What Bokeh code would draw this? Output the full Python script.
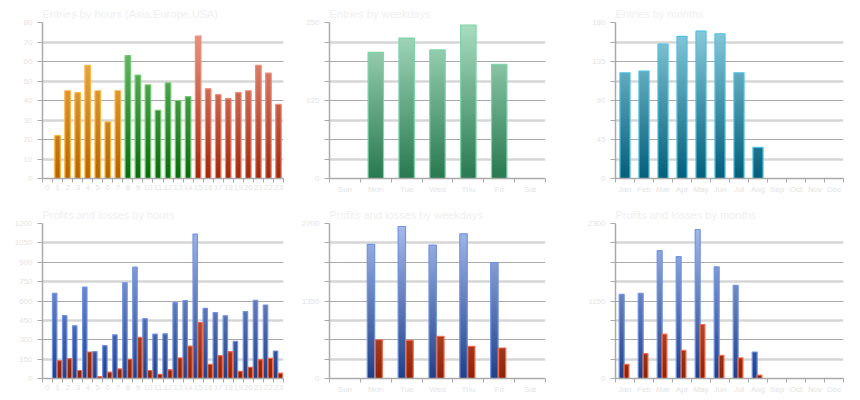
import numpy as np
from bokeh.plotting import figure
from bokeh.layouts import column, row
from bokeh.models import FixedTicker, Range1d
from bokeh.embed import file_html
from bokeh.resources import INLINE

# ---------------- data ----------------
hours = [str(h) for h in range(24)]
weekdays = ["Sun", "Mon", "Tue", "Wed", "Thu", "Fri", "Sat"]
months = ["Jan", "Feb", "Mar", "Apr", "May", "Jun", "Jul", "Aug", "Sep", "Oct", "Nov", "Dec"]

hour_regions = ["Asia"] * 8 + ["Europe"] * 7 + ["USA"] * 9

entries_by_hour = [0, 22, 45, 44, 58, 45, 29, 45, 63, 53, 48, 35, 49, 40, 42,
                   73, 46, 43, 41, 44, 45, 58, 54, 38]
entries_by_weekday = [0, 202, 225, 206, 246, 183, 0]
entries_by_month = [122, 124, 155, 164, 170, 167, 122, 36, 0, 0, 0, 0]

profits_by_hour = [0, 659, 487, 408, 708, 208, 254, 338, 741, 862, 464, 344, 346,
                   587, 603, 1118, 544, 510, 485, 287, 518, 605, 569, 213]
losses_by_hour = [0, 138, 154, 62, 205, 15, 49, 74, 149, 318, 62, 33, 67,
                  159, 251, 433, 110, 177, 208, 56, 87, 146, 156, 41]
profits_by_weekday = [0, 2337, 2648, 2325, 2521, 2019, 0]
losses_by_weekday = [0, 675, 664, 733, 560, 531, 0]
profits_by_month = [1248, 1263, 1897, 1808, 2211, 1656, 1381, 393, 0, 0, 0, 0]
losses_by_month = [211, 369, 658, 418, 801, 344, 305, 49, 0, 0, 0, 0]

# y axis tick labels
hour_entry_ticks = [0, 10, 20, 30, 40, 50, 60, 70, 80]
weekday_entry_ticks = [0, 125, 250]
month_entry_ticks = [0, 45, 90, 135, 180]
hour_pl_ticks = [0, 150, 300, 450, 600, 750, 900, 1050, 1200]
weekday_pl_ticks = [0, 1350, 2700]
month_pl_ticks = [0, 1150, 2300]

# ---------------- styles ----------------
FONT = "Liberation Sans"
TITLE_COLOR = "#efefef"
LABEL_COLOR = "#e4e4e4"
AXIS_COLOR = "#aaaaaa"
GRID_DARK = "#a9a9a9"
GRID_LIGHT = "#d6d6d6"

# (dark bottom, light top, outline)
PAL = {
    "Asia": ("#b46400", "#f7bc5e", "#ffb440"),
    "Europe": ("#0b6a0b", "#7cc67c", "#72cc72"),
    "USA": ("#a0280a", "#ee9c8a", "#f28a78"),
    "week": ("#287850", "#aadec2", "#7ed6a6"),
    "month": ("#035e7a", "#8ecede", "#4cc2e2"),
    "profit": ("#1f3f88", "#a8bcec", "#7094e6"),
    "loss": ("#8c2206", "#f0906e", "#f26a4a"),
}

NB = 60


def h2rgb(h):
    return np.array([int(h[i:i + 2], 16) for i in (1, 3, 5)], dtype=float)


def mix(c0, c1, t):
    a, b = h2rgb(c0), h2rgb(c1)
    c = a + (b - a) * t
    return "#%02x%02x%02x" % tuple(int(round(v)) for v in c)


def add_bars(p, centers, vals, width, ymax, pals):
    L, R, B, T, C = [], [], [], [], []
    oL, oR, oT, oC = [], [], [], []
    step = ymax / NB
    for x, v, pal in zip(centers, vals, pals):
        if v <= 0:
            continue
        dark, light, outline = pal
        k = 0
        while k * step < v:
            lo = k * step
            hi = min((k + 1.6) * step, v)
            L.append(x - width / 2)
            R.append(x + width / 2)
            B.append(lo)
            T.append(hi)
            C.append(mix(dark, light, (lo + step / 2) / ymax))
            k += 1
        oL.append(x - width / 2)
        oR.append(x + width / 2)
        oT.append(v)
        oC.append(outline)
    p.quad(left=L, right=R, bottom=B, top=T, fill_color=C, line_color=None)
    p.quad(left=oL, right=oR, bottom=[0] * len(oL), top=oT, fill_color=None,
           line_color=oC, line_width=1.2)


def make_fig(title, w, h, labels, ymax, ylabels, borders):
    n = len(labels)
    bl, br, bt, bb = borders
    p = figure(width=w, height=h, output_backend="svg", toolbar_location=None,
               x_range=Range1d(-0.5, n - 0.5), y_range=Range1d(0, ymax),
               min_border_left=bl, min_border_right=br, min_border_top=bt, min_border_bottom=bb,
               title=title)
    p.title.text_font = FONT
    p.title.text_font_size = "11px"
    p.title.text_font_style = "normal"
    p.title.text_color = TITLE_COLOR
    p.title.align = "left"
    p.title.standoff = 5
    p.outline_line_color = None
    p.background_fill_color = "white"
    p.border_fill_color = "white"
    p.xgrid.visible = False

    levels = [ymax * k / 8 for k in range(9)]
    p.ygrid.ticker = FixedTicker(ticks=levels[::2], minor_ticks=levels[1::2])
    p.ygrid.grid_line_color = GRID_DARK
    p.ygrid.grid_line_width = 1
    p.ygrid.minor_grid_line_color = GRID_LIGHT
    p.ygrid.minor_grid_line_width = 2.5

    xa = p.xaxis[0]
    xa.ticker = FixedTicker(ticks=list(range(n)), minor_ticks=[i - 0.5 for i in range(n + 1)])
    xa.major_label_overrides = {i: lab for i, lab in enumerate(labels)}
    xa.major_tick_line_color = None
    xa.major_tick_out = 4
    xa.major_tick_in = 0
    xa.minor_tick_out = 4
    xa.minor_tick_in = 0
    xa.minor_tick_line_color = AXIS_COLOR
    xa.minor_tick_line_width = 1
    xa.axis_line_color = AXIS_COLOR
    xa.axis_line_width = 1.5
    xa.major_label_text_font = FONT
    xa.major_label_text_font_size = "8px"
    xa.major_label_text_color = LABEL_COLOR
    xa.major_label_standoff = 2

    ya = p.yaxis[0]
    ya.ticker = FixedTicker(ticks=ylabels, minor_ticks=[lv for lv in levels if lv not in ylabels])
    ya.major_tick_out = 5
    ya.major_tick_in = 0
    ya.minor_tick_out = 5
    ya.minor_tick_in = 0
    ya.major_tick_line_color = AXIS_COLOR
    ya.minor_tick_line_color = AXIS_COLOR
    ya.axis_line_color = AXIS_COLOR
    ya.axis_line_width = 1.5
    ya.major_label_text_font = FONT
    ya.major_label_text_font_size = "8px"
    ya.major_label_text_color = LABEL_COLOR
    ya.major_label_standoff = 5
    return p


TOP_H, BOT_H = 204, 192
W1, W2, W3 = 295, 287, 270
B1 = (42, 12)
B2 = (34, 37)
B3 = (33, 9)
TOP_B = (22, 26)
BOT_B = (18, 18)

# ---- top row ----
p1 = make_fig("Entries by hours (Asia,Europe,USA)", W1, TOP_H, hours, 80, hour_entry_ticks, B1 + TOP_B)
add_bars(p1, list(range(24)), entries_by_hour, 0.55, 80, [PAL[r] for r in hour_regions])

p2 = make_fig("Entries by weekdays", W2, TOP_H, weekdays, 250, weekday_entry_ticks, B2 + TOP_B)
add_bars(p2, list(range(7)), entries_by_weekday, 0.5, 250, [PAL["week"]] * 7)

p3 = make_fig("Entries by months", W3, TOP_H, months, 180, month_entry_ticks, B3 + TOP_B)
add_bars(p3, list(range(12)), entries_by_month, 0.53, 180, [PAL["month"]] * 12)

# ---- bottom row ----
p4 = make_fig("Profits and losses by hours", W1, BOT_H, hours, 1200, hour_pl_ticks, B1 + BOT_B)
add_bars(p4, [i - 0.29 for i in range(24)], profits_by_hour, 0.44, 1200, [PAL["profit"]] * 24)
add_bars(p4, [i + 0.19 for i in range(24)], losses_by_hour, 0.44, 1200, [PAL["loss"]] * 24)

p5 = make_fig("Profits and losses by weekdays", W2, BOT_H, weekdays, 2700, weekday_pl_ticks, B2 + BOT_B)
add_bars(p5, [i - 0.156 for i in range(7)], profits_by_weekday, 0.24, 2700, [PAL["profit"]] * 7)
add_bars(p5, [i + 0.097 for i in range(7)], losses_by_weekday, 0.23, 2700, [PAL["loss"]] * 7)

p6 = make_fig("Profits and losses by months", W3, BOT_H, months, 2300, month_pl_ticks, B3 + BOT_B)
add_bars(p6, [i - 0.175 for i in range(12)], profits_by_month, 0.26, 2300, [PAL["profit"]] * 12)
add_bars(p6, [i + 0.08 for i in range(12)], losses_by_month, 0.25, 2300, [PAL["loss"]] * 12)

layout = column(row(p1, p2, p3), row(p4, p5, p6))

open("out.html", "w").write(file_html(layout, INLINE))
